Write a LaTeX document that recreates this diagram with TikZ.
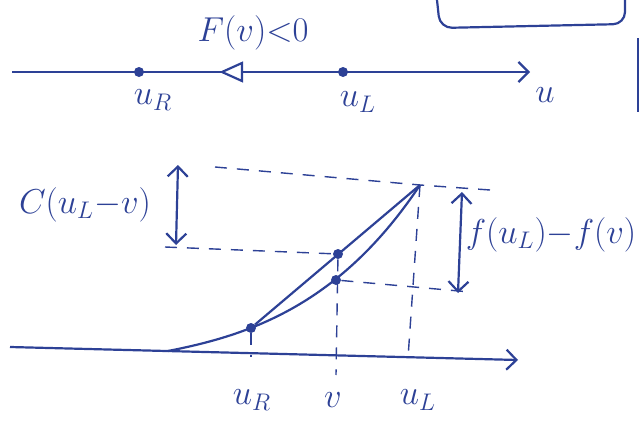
\documentclass[tikz,border=0pt]{standalone}
\usetikzlibrary{arrows.meta}
\definecolor{ink}{RGB}{45,65,150}
\tikzset{
  inkline/.style={ink, line width=1.1pt},
  guide/.style={ink, line width=0.7pt, dash pattern=on 6pt off 5pt},
  dotmark/.style={circle, fill=ink, inner sep=0pt, minimum size=5pt},
  lbl/.style={ink, font=\LARGE},
}
\begin{document}
\begin{tikzpicture}[x=0.5pt, y=-0.5pt, >={Straight Barb[length=5pt,width=10pt]}]
\useasboundingbox (0,0) rectangle (643,439);

    % Scrap of the box above
    \draw[inkline, rounded corners=6pt] (437,0) -- (440,28) -- (625,24) -- (625,0);
    \draw[inkline] (638,38) -- (638,112);

    % Phase line
    \draw[inkline, ->] (12,72) -- (530,72);
    \node[lbl] (uAxis) at (545,95) {$u$};
    \node[dotmark] (uR) at (139,72) {};
    \node[dotmark] (uL) at (343,72) {};
    \node[lbl] (uRLab) at (153,100) {$u_R$};
    \node[lbl] (uLLab) at (358,102) {$u_L$};

    % Direction of the flow
    \draw[inkline, fill=white] (222,72) -- (242,63) -- (242,81) -- cycle;
    \node[lbl] (sign) at (253,33) {$F(v){<}0$};

    % Graph axis
    \draw[inkline, ->] (10,347) -- (518,360);
    \coordinate (foot) at (168,351);

    % Points of the graph
    \node[dotmark] (pR) at (251,328) {};
    \node[dotmark] (pVc) at (338,254) {};
    \node[dotmark] (pVf) at (336,280) {};
    \coordinate (pTop) at (420,185);

    % Flux and chord
    \draw[inkline] (foot) .. controls (250,335) and (340,305) .. (pTop);
    \draw[inkline] (pR) -- (pTop);

    % Guides
    \draw[guide] (215,167) -- (pTop) -- (490,190);
    \draw[guide] (165,247) -- (pVc);
    \draw[guide] (pVf) -- (470,292);
    \draw[guide] (pR) -- (251,357);
    \draw[guide] (pVc) -- (336,375);
    \draw[guide] (pTop) -- (408,358);

    % Differences
    \draw[inkline, <->] (178,165) -- (176,245);
    \node[lbl] (cLab) at (85,205) {$C(u_L{-}v)$};
    \draw[inkline, <->] (462,192) -- (458,293);
    \node[lbl] (fLab) at (551,235) {$f(u_L){-}f(v)$};

    % Labels under the axis
    \node[lbl] (uRBot) at (252,400) {$u_R$};
    \node[lbl] (vBot) at (333,400) {$v$};
    \node[lbl] (uLBot) at (418,400) {$u_L$};

\end{tikzpicture}
\end{document}
